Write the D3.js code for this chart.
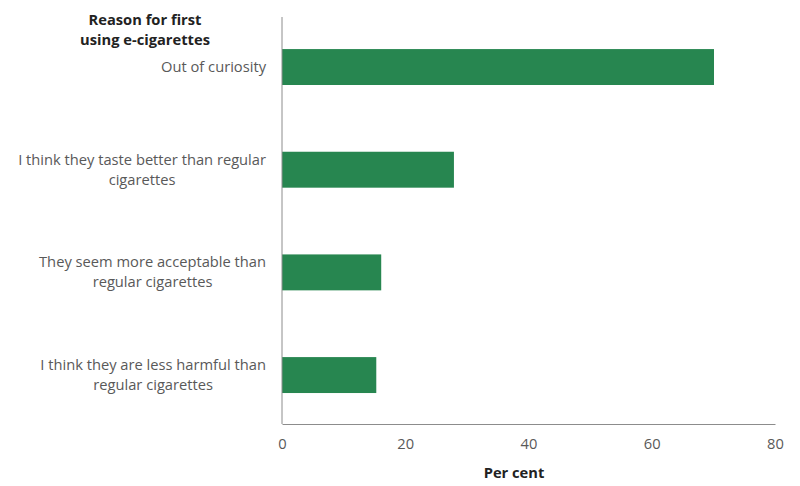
<!DOCTYPE html>
<html>
<head>
<meta charset="utf-8">
<script src="https://cdn.jsdelivr.net/npm/d3@7.9.0/dist/d3.min.js"></script>
<style>
  body { margin: 0; background: #fff; }
  svg { font-family: 'Open Sans', sans-serif; }
</style>
</head>
<body>
<svg width="800" height="486"></svg>
<script>
// reasons, with line breaks as in the chart
const reasons = [
  'Out of curiosity',
  'I think they taste better than regular\ncigarettes',
  'They seem more acceptable than\nregular cigarettes',
  'I think they are less harmful than\nregular cigarettes'
];
const perCent = [70.1, 27.9, 16.1, 15.3];
const xTicks = [0, 20, 40, 60, 80];

let data = reasons.map((r, i) => ({ label: r, value: perCent[i] }));

let svg = d3.select('svg');
const fs = 14.7;

let x = d3.scaleLinear().domain([0, 80]).range([282, 775]);
let y = d3.scaleBand()
  .domain(reasons)
  .range([15.7, 426.4])
  .paddingInner(0.65)
  .paddingOuter(0.325);

// bars
svg.selectAll('rect.bar')
  .data(data)
  .join('rect')
  .attr('class', 'bar')
  .attr('x', x(0))
  .attr('y', (d) => y(d.label))
  .attr('width', (d) => x(d.value) - x(0))
  .attr('height', y.bandwidth())
  .attr('fill', '#278650');

// x axis
let xAxis = svg.append('g')
  .attr('transform', 'translate(0,424)')
  .call(d3.axisBottom(x).tickValues(xTicks).tickSize(0).tickPadding(15));
xAxis.select('.domain').attr('stroke', '#8c8c8c');
xAxis.selectAll('text')
  .attr('fill', '#595959')
  .attr('font-size', fs)
  .attr('font-family', 'Open Sans');

// y axis line
svg.append('line')
  .attr('x1', x(0)).attr('x2', x(0))
  .attr('y1', 17).attr('y2', 424)
  .attr('stroke', '#8c8c8c');

// category labels: block right-aligned, lines centred within it
let labels = svg.append('g');
data.forEach((d) => {
  let lines = d.label.split('\n');
  let cy = y(d.label) + y.bandwidth() / 2;
  let t = labels.append('text')
    .attr('font-size', fs)
    .attr('fill', '#595959')
    .attr('text-anchor', 'middle');
  lines.forEach((ln, i) => {
    t.append('tspan').text(ln).attr('y', cy + (i - (lines.length - 1) / 2) * 20 + 5);
  });
  let w = d3.max(t.selectAll('tspan').nodes(), (n) => n.getComputedTextLength());
  t.selectAll('tspan').attr('x', 266 - w / 2);
});

// axis titles
let ttl = svg.append('text')
  .attr('font-size', fs)
  .attr('font-weight', 'bold')
  .attr('fill', '#222')
  .attr('text-anchor', 'middle');
ttl.append('tspan').attr('x', 145).attr('y', 25).text('Reason for first');
ttl.append('tspan').attr('x', 145).attr('y', 45).text('using e-cigarettes');

svg.append('text')
  .attr('x', 514)
  .attr('y', 478)
  .attr('font-size', fs)
  .attr('font-weight', 'bold')
  .attr('fill', '#222')
  .attr('text-anchor', 'middle')
  .text('Per cent');
</script>
</body>
</html>
